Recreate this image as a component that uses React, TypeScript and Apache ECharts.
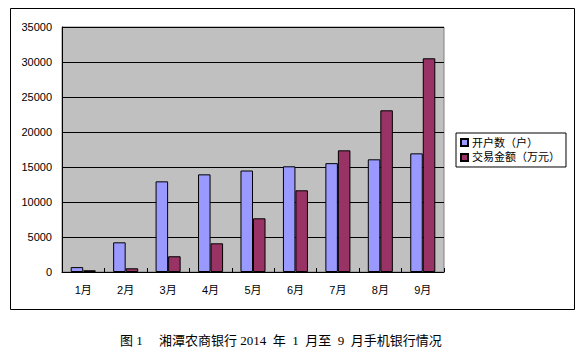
import React, { useEffect, useRef } from "react";
import * as echarts from "echarts";

const categories = ["1月", "2月", "3月", "4月", "5月", "6月", "7月", "8月", "9月"];
const accounts = [700, 4240, 12950, 13950, 14500, 15100, 15550, 16100, 16950];
const amounts = [250, 530, 2250, 4100, 7670, 11670, 17380, 23100, 30530];
const seriesNames = ["开户数（户）", "交易金额（万元）"];
const caption = "图 1     湘潭农商银行 2014  年  1  月至  9  月手机银行情况";

export default function App() {
  const ref = useRef<HTMLDivElement>(null);
  useEffect(() => {
    document.body.style.margin = "0";
    const chart = echarts.init(ref.current!, null, { renderer: "svg" });
    const font = "Arial, 'Liberation Sans', 'Noto Sans CJK SC', sans-serif";
    chart.setOption({
      animation: false,
      backgroundColor: "#ffffff",
      textStyle: { fontFamily: font },
      grid: {
        left: 62,
        top: 27,
        width: 382,
        height: 245,
        show: true,
        backgroundColor: "#c0c0c0",
        borderColor: "#808080",
        borderWidth: 1,
        containLabel: false,
      },
      legend: {
        orient: "vertical",
        left: 456,
        top: 133,
        padding: [4, 6, 4, 4],
        itemGap: 4,
        itemWidth: 7,
        itemHeight: 7,
        icon: "rect",
        borderColor: "#000",
        borderWidth: 1,
        textStyle: { fontSize: 11, color: "#000", fontFamily: font, padding: [0, 0, 0, -1] },
        data: seriesNames,
      },
      xAxis: {
        type: "category",
        data: categories,
        axisLine: { show: true, lineStyle: { color: "#000", width: 1 } },
        axisTick: { show: true, inside: true, length: 4, lineStyle: { color: "#000" } },
        axisLabel: { fontSize: 11, color: "#000", margin: 12, fontFamily: font },
        splitLine: { show: false },
      },
      yAxis: {
        type: "value",
        min: 0,
        max: 35000,
        interval: 5000,
        axisLine: { show: true, lineStyle: { color: "#000", width: 1 } },
        axisTick: { show: false },
        axisLabel: {
          fontSize: 11,
          color: "#000",
          margin: 10,
          fontFamily: font,
          formatter: (v: number) => String(v),
        },
        splitLine: { show: true, lineStyle: { color: "#000", width: 1 } },
      },
      series: [
        {
          name: seriesNames[0],
          type: "bar",
          data: accounts,
          barGap: "0%",
          barCategoryGap: "41%",
          itemStyle: { color: "#9999ff", borderColor: "#000", borderWidth: 1 },
        },
        {
          name: seriesNames[1],
          type: "bar",
          data: amounts,
          barGap: "0%",
          barCategoryGap: "41%",
          itemStyle: { color: "#993366", borderColor: "#000", borderWidth: 1 },
        },
      ],
      graphic: [
        {
          type: "rect",
          shape: { x: 10.5, y: 8.5, width: 564, height: 301 },
          style: { fill: "none", stroke: "#000", lineWidth: 1 },
          z: 100,
        },
        {
          type: "text",
          left: 120,
          top: 334,
          style: {
            text: caption,
            fontSize: 13,
            fill: "#000",
            fontFamily: "SimSun, 'Liberation Serif', 'Noto Sans CJK SC', serif",
          },
        },
      ],
    });
    return () => chart.dispose();
  }, []);
  return <div ref={ref} style={{ width: 586, height: 355 }} />;
}
